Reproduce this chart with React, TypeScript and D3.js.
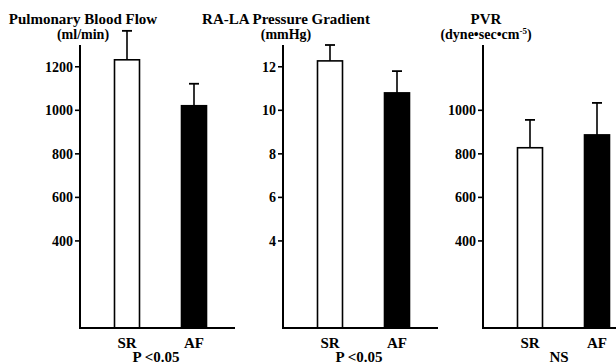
import React from "react";
import * as d3 from "d3";

const groups = ["SR", "AF"];

const flowMeans = [1232, 1021];
const flowErrs = [133, 101];
const flowTicks = [400, 600, 800, 1000, 1200];

const pressureMeans = [12.27, 10.8];
const pressureErrs = [0.73, 1.0];
const pressureTicks = [4, 6, 8, 10, 12];

const pvrMeans = [828, 887];
const pvrErrs = [128, 147];
const pvrTicks = [400, 600, 800, 1000];

const titles = ["Pulmonary Blood Flow", "RA-LA Pressure Gradient", "PVR"];
const units = ["(ml/min)", "(mmHg)", null];
const stats = ["P <0.05", "P <0.05", "NS"];
const fills = ["#fff", "#000"];

const W = 616;
const H = 364;
const FONT = "Liberation Serif, DejaVu Serif, serif";

const panels = [
  { axisX: 80, max: 1300, means: flowMeans, errs: flowErrs, ticks: flowTicks },
  { axisX: 283, max: 13, means: pressureMeans, errs: pressureErrs, ticks: pressureTicks },
  { axisX: 483, max: 1300, means: pvrMeans, errs: pvrErrs, ticks: pvrTicks },
];

const baseY = 328;
const topY = 45;

const txt: React.CSSProperties = { fontFamily: FONT, fontWeight: 700 };

export default function App() {
  return (
    <div style={{ position: "fixed", left: 0, top: 0 }}>
      <svg width={W} height={H} style={{ display: "block", background: "#fff", fontFamily: FONT, fontWeight: 700 }}>
        {panels.map((p, i) => {
          const y = d3.scaleLinear().domain([0, p.max]).range([baseY, topY]);
          const x = d3.scalePoint<string>().domain(groups).range([p.axisX + 47, p.axisX + 114]);
          const bw = 25;
          const cx = p.axisX + 3;
          return (
            <g key={i}>
              <text x={cx} y={24} textAnchor="middle" fontSize={15} style={txt}>{titles[i]}</text>
              {units[i] !== null ? (
                <text x={cx} y={39} textAnchor="middle" fontSize={14} style={txt}>{units[i]}</text>
              ) : (
                <text x={cx} y={39} textAnchor="middle" fontSize={14} style={txt}>
                  (dyne•sec•cm
                  <tspan dy={-5} fontSize={9}>-5</tspan>
                  <tspan dy={5}>)</tspan>
                </text>
              )}
              {groups.map((g, j) => {
                const xc = x(g)!;
                const top = y(p.means[j]);
                const et = y(p.means[j] + p.errs[j]);
                return (
                  <g key={g}>
                    <line x1={xc} x2={xc} y1={top} y2={et} stroke="#000" strokeWidth={1.6} />
                    <line x1={xc - 5} x2={xc + 5} y1={et} y2={et} stroke="#000" strokeWidth={1.8} />
                    <rect x={xc - bw / 2} y={top} width={bw} height={baseY - top} fill={fills[j]} stroke="#000" strokeWidth={1.6} />
                    <text x={xc} y={348} textAnchor="middle" fontSize={15} style={txt}>{g}</text>
                  </g>
                );
              })}
              <line x1={p.axisX} x2={p.axisX} y1={topY} y2={baseY} stroke="#000" strokeWidth={2} />
              <line x1={p.axisX - 1} x2={p.axisX + 155} y1={baseY} y2={baseY} stroke="#000" strokeWidth={2} />
              {p.ticks.map((t) => (
                <g key={t}>
                  <line x1={p.axisX - 5} x2={p.axisX} y1={y(t)} y2={y(t)} stroke="#000" strokeWidth={1.6} />
                  <text x={p.axisX - 7} y={y(t)} dy="0.35em" textAnchor="end" fontSize={14} style={txt}>{t}</text>
                </g>
              ))}
              <text x={p.axisX + 76} y={362} textAnchor="middle" fontSize={15} style={txt}>{stats[i]}</text>
            </g>
          );
        })}
      </svg>
    </div>
  );
}
